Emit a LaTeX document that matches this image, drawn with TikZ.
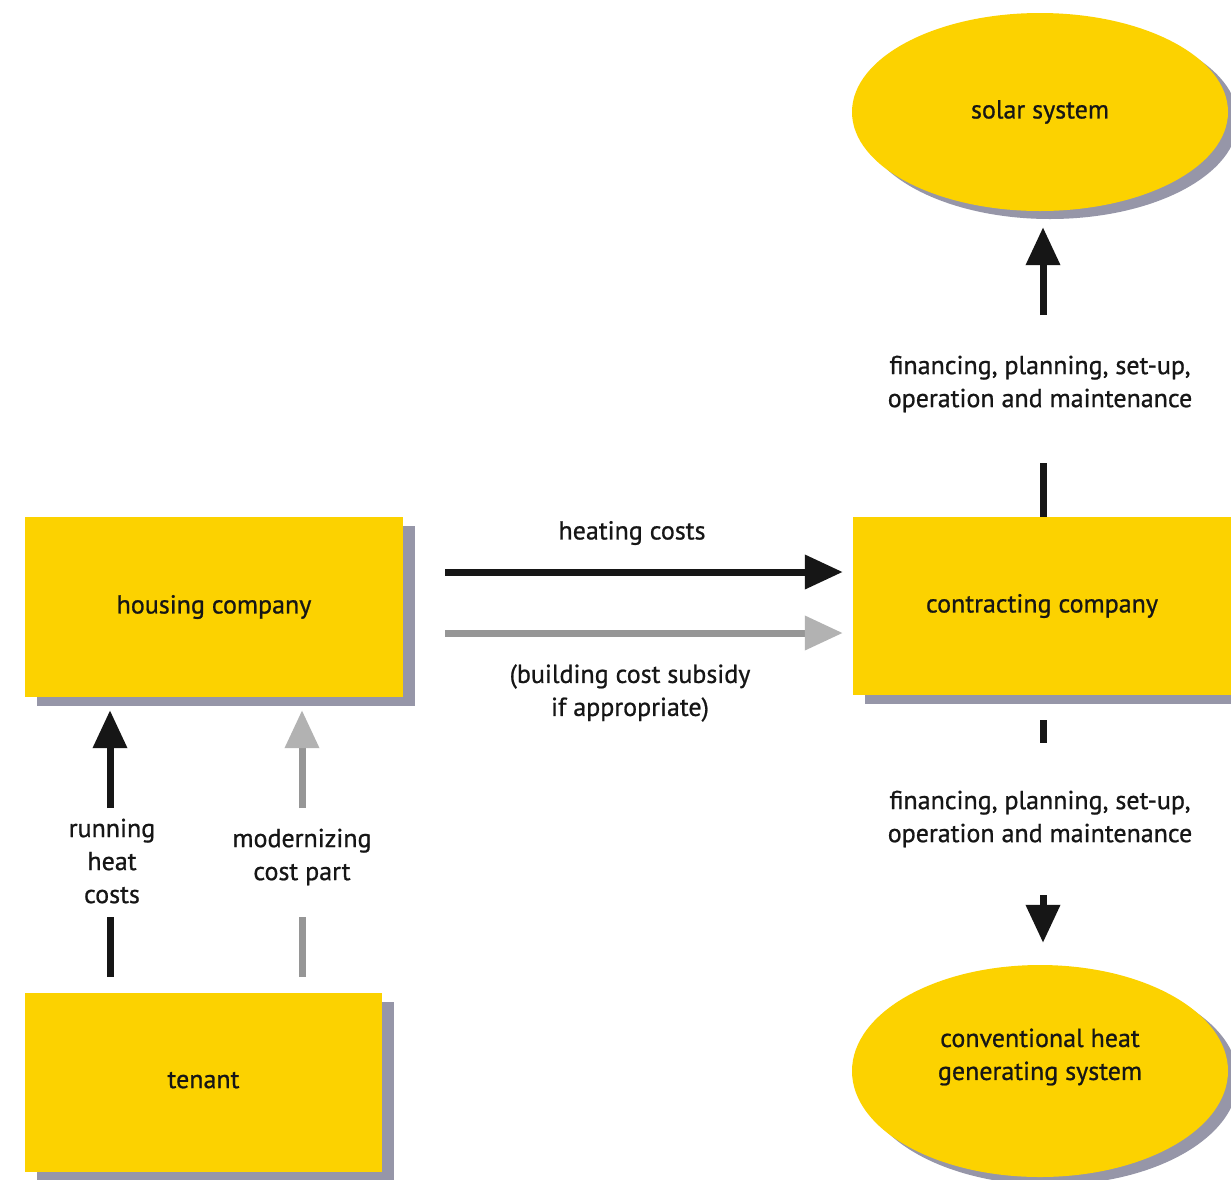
\documentclass[tikz,border=0pt]{standalone}
\usepackage{fontspec}
\setmainfont{PT Sans}[FakeBold=0.8]
\usetikzlibrary{arrows.meta,shapes.geometric,shadows}
\definecolor{yel}{RGB}{252,210,0}
\definecolor{shd}{RGB}{150,150,168}
\definecolor{ink}{RGB}{22,22,22}
\definecolor{gline}{RGB}{150,150,150}
\definecolor{ghead}{RGB}{178,178,178}
\begin{document}
\begin{tikzpicture}[x=1pt,y=-1pt,
  txt/.style={font=\fontsize{26}{33}\selectfont, text=ink, align=center},
  box/.style={rectangle, fill=yel, inner sep=0pt, txt,
    drop shadow={shadow xshift=12pt, shadow yshift=-9pt, fill=shd, opacity=1}},
  oval/.style={ellipse, fill=yel, inner sep=0pt, txt,
    drop shadow={shadow xshift=10pt, shadow yshift=-8pt, fill=shd, opacity=1}},
  blkline/.style={draw=ink, line width=7pt},
  blkarrow/.style={blkline, -{Triangle[length=38pt,width=33pt]}},
  gryline/.style={draw=gline, line width=7pt},
  gryarrow/.style={gryline, -{Triangle[length=38pt,width=33pt,color=ghead]}},
]
\useasboundingbox (0,0) rectangle (1231,1179);
\fill[white] (0,0) rectangle (1231,1179);

% nodes
\node[box, minimum width=378pt, minimum height=180pt] (housing) at (214,607) {housing company};
\node[box, minimum width=357pt, minimum height=179pt] (tenant) at (203.5,1082.5) {\raisebox{5pt}{tenant}};
\node[box, minimum width=378pt, minimum height=178pt] (contracting) at (1042,606) {contracting company};
\node[oval, minimum width=376pt, minimum height=198pt] (solar) at (1040,112) {solar system};
\node[oval, minimum width=376pt, minimum height=212pt,
  label={[txt, yshift=14pt]center:conventional heat\\generating system}] (conv) at (1040,1071) {};

% labels
\node[txt] (lheat) at (632,533) {heating costs};
\node[txt] (lsub) at (630,693) {(building cost subsidy\\if appropriate)};
\node[txt] (lrun) at (112,861) {running\\heat\\costs};
\node[txt] (lmod) at (302,857) {modernizing\\cost part};
\node[txt] (lfin1) at (1040,384) {financing, planning, set-up,\\operation and maintenance};
\node[txt] (lfin2) at (1040,819) {financing, planning, set-up,\\operation and maintenance};

% helper coordinates
\coordinate (hc) at (0,572);
\coordinate (hg) at (0,633);
\coordinate (ga) at (110,917);
\coordinate (gb) at (110,808);
\coordinate (gc) at (302,917);
\coordinate (gd) at (302,808);
\coordinate (ua) at (1043,463);
\coordinate (ub) at (1043,315);
\coordinate (da) at (1043,743);
\coordinate (db) at (1043,895);

% horizontal connectors
\draw[blkarrow, shorten <=42pt, shorten >=10pt] (housing.east |- hc) -- (contracting.west |- hc);
\draw[gryarrow, shorten <=42pt, shorten >=10pt] (housing.east |- hg) -- (contracting.west |- hg);

% tenant -> housing
\draw[blkline, shorten <=16pt] (tenant.north -| ga) -- (ga);
\draw[blkarrow, shorten >=13pt] (gb) -- (housing.south -| gb);
\draw[gryline, shorten <=16pt] (tenant.north -| gc) -- (gc);
\draw[gryarrow, shorten >=13pt] (gd) -- (housing.south -| gd);

% contracting -> solar
\draw[blkline] (contracting.north -| ua) -- (ua);
\draw[blkarrow, shorten >=16pt] (ub) -- (solar.south -| ub);

% contracting -> conventional
\draw[blkline, shorten <=25pt] (contracting.south -| da) -- (da);
\draw[blkarrow, shorten >=22pt] (db) -- (conv.north -| db);
\end{tikzpicture}
\end{document}
